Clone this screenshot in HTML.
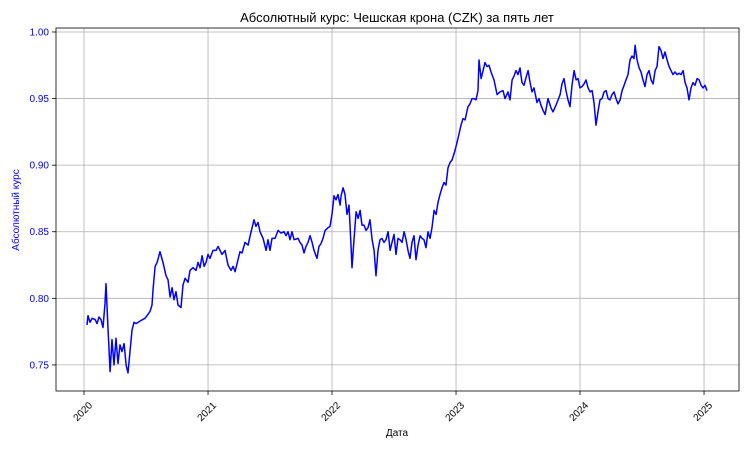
<!DOCTYPE html>
<html><head><meta charset="utf-8"><style>
html,body{margin:0;padding:0;background:#fff;width:750px;height:450px;overflow:hidden}
svg{display:block;font-family:"Liberation Sans","DejaVu Sans",sans-serif}
</style></head><body>
<svg id="chart" width="750" height="450"></svg>
<script>
const years = [0.024,0.032,0.048,0.065,0.089,0.105,0.121,0.137,0.153,0.169,0.177,0.194,0.210,0.226,0.242,0.258,0.274,0.290,0.306,0.323,0.339,0.355,0.371,0.387,0.403,0.419,0.452,0.492,0.532,0.548,0.556,0.573,0.589,0.613,0.637,0.661,0.677,0.694,0.710,0.726,0.742,0.758,0.782,0.798,0.815,0.839,0.855,0.879,0.903,0.919,0.935,0.952,0.968,0.984,1.000,1.016,1.040,1.065,1.081,1.113,1.137,1.161,1.185,1.202,1.218,1.242,1.258,1.274,1.298,1.323,1.347,1.371,1.387,1.403,1.419,1.444,1.468,1.484,1.500,1.516,1.540,1.565,1.589,1.613,1.629,1.645,1.661,1.677,1.694,1.726,1.742,1.758,1.774,1.790,1.806,1.823,1.839,1.855,1.879,1.895,1.911,1.927,1.944,1.968,1.984,2.000,2.016,2.032,2.048,2.065,2.073,2.089,2.105,2.121,2.137,2.153,2.161,2.177,2.194,2.210,2.226,2.242,2.258,2.274,2.290,2.306,2.323,2.339,2.355,2.371,2.387,2.403,2.419,2.435,2.452,2.468,2.484,2.500,2.516,2.532,2.548,2.565,2.581,2.597,2.613,2.629,2.645,2.661,2.677,2.694,2.710,2.726,2.742,2.758,2.774,2.790,2.806,2.823,2.839,2.855,2.871,2.887,2.903,2.919,2.935,2.952,2.968,2.992,3.016,3.040,3.056,3.073,3.089,3.097,3.113,3.129,3.145,3.161,3.177,3.185,3.202,3.218,3.234,3.250,3.266,3.282,3.306,3.331,3.355,3.379,3.395,3.419,3.435,3.452,3.468,3.484,3.500,3.516,3.532,3.548,3.565,3.581,3.597,3.613,3.629,3.653,3.669,3.685,3.702,3.718,3.742,3.766,3.782,3.806,3.823,3.839,3.855,3.871,3.887,3.903,3.919,3.935,3.952,3.968,3.984,4.000,4.016,4.032,4.048,4.065,4.081,4.097,4.113,4.129,4.145,4.161,4.177,4.194,4.210,4.226,4.242,4.258,4.274,4.290,4.306,4.323,4.339,4.355,4.371,4.387,4.403,4.419,4.435,4.444,4.460,4.476,4.492,4.508,4.524,4.540,4.556,4.573,4.589,4.605,4.621,4.637,4.653,4.669,4.685,4.702,4.718,4.734,4.750,4.766,4.782,4.798,4.815,4.831,4.847,4.863,4.879,4.895,4.911,4.927,4.944,4.960,4.976,4.992,5.008,5.024];
const rates = [0.780,0.787,0.782,0.785,0.784,0.781,0.786,0.784,0.778,0.796,0.811,0.776,0.745,0.769,0.750,0.770,0.751,0.765,0.760,0.766,0.750,0.744,0.760,0.776,0.782,0.781,0.783,0.785,0.790,0.795,0.806,0.824,0.827,0.835,0.827,0.817,0.814,0.801,0.808,0.799,0.805,0.795,0.793,0.810,0.815,0.812,0.821,0.823,0.821,0.827,0.823,0.832,0.824,0.827,0.833,0.830,0.836,0.836,0.839,0.833,0.836,0.825,0.821,0.824,0.820,0.829,0.835,0.834,0.842,0.840,0.850,0.859,0.854,0.857,0.850,0.845,0.836,0.844,0.836,0.845,0.845,0.851,0.849,0.850,0.847,0.850,0.844,0.850,0.844,0.845,0.842,0.840,0.834,0.839,0.842,0.847,0.842,0.836,0.830,0.839,0.841,0.845,0.851,0.853,0.854,0.863,0.877,0.874,0.878,0.870,0.877,0.883,0.878,0.863,0.870,0.840,0.823,0.844,0.865,0.860,0.866,0.855,0.855,0.851,0.853,0.859,0.844,0.836,0.817,0.836,0.844,0.845,0.842,0.844,0.850,0.836,0.842,0.848,0.833,0.845,0.844,0.842,0.850,0.844,0.836,0.830,0.842,0.847,0.829,0.840,0.847,0.845,0.844,0.838,0.850,0.845,0.853,0.866,0.863,0.872,0.878,0.883,0.887,0.885,0.898,0.902,0.904,0.911,0.920,0.930,0.935,0.934,0.941,0.944,0.946,0.950,0.950,0.949,0.956,0.979,0.965,0.971,0.977,0.974,0.975,0.970,0.964,0.953,0.955,0.956,0.950,0.955,0.949,0.964,0.967,0.971,0.968,0.973,0.962,0.960,0.966,0.971,0.962,0.955,0.958,0.947,0.950,0.945,0.941,0.938,0.950,0.943,0.940,0.945,0.949,0.953,0.961,0.965,0.956,0.949,0.944,0.960,0.971,0.964,0.965,0.958,0.959,0.961,0.964,0.958,0.955,0.956,0.947,0.930,0.940,0.949,0.950,0.955,0.956,0.950,0.949,0.953,0.955,0.950,0.946,0.949,0.956,0.960,0.964,0.968,0.979,0.982,0.980,0.990,0.979,0.973,0.970,0.964,0.959,0.968,0.971,0.964,0.961,0.971,0.974,0.989,0.986,0.980,0.985,0.979,0.974,0.971,0.968,0.970,0.968,0.969,0.968,0.971,0.962,0.958,0.949,0.958,0.962,0.960,0.965,0.964,0.960,0.958,0.960,0.956];
const xTickLabels = ["2020","2021","2022","2023","2024","2025"];
const xTickValues = [0,1,2,3,4,5];
const yTickValues = [0.75,0.80,0.85,0.90,0.95,1.00];
const yTickLabels = ["0.75","0.80","0.85","0.90","0.95","1.00"];

const L=56,R=739,T=28,B=391;
const X0=-0.226,X1=5.282,Y0=0.7304,Y1=1.003;
const sx=v=>L+(v-X0)/(X1-X0)*(R-L);
const sy=v=>B-(v-Y0)/(Y1-Y0)*(B-T);
const svg=document.getElementById('chart');
const NS='http://www.w3.org/2000/svg';
function mk(tag,attrs,parent){const e=document.createElementNS(NS,tag);for(const k in attrs)e.setAttribute(k,attrs[k]);(parent||svg).appendChild(e);return e;}

const t=mk('text',{x:397,y:22,'text-anchor':'middle','font-size':13,fill:'#000'});


t.textContent='Абсолютный курс: Чешская крона (CZK) за пять лет';

const grid=mk('g',{});


xTickValues.forEach((v,i)=>{
  const x=sx(v);
  mk('line',{x1:x,x2:x,y1:T,y2:B,stroke:'#b0b0b0','stroke-width':0.8},grid);
  mk('line',{x1:x,x2:x,y1:B,y2:B+4,stroke:'#000','stroke-width':0.8});
  const lb=mk('text',{x:x,y:B+8,'font-size':10,fill:'#000','text-anchor':'end',transform:`rotate(-45 ${x+4} ${B+10})`});
  
  
  lb.setAttribute('x',x+4);lb.setAttribute('y',B+17);
  lb.textContent=xTickLabels[i];
});
yTickValues.forEach((v,i)=>{
  const y=sy(v);
  mk('line',{x1:L,x2:R,y1:y,y2:y,stroke:'#b0b0b0','stroke-width':0.8},grid);
  mk('line',{x1:L-4,x2:L,y1:y,y2:y,stroke:'#000','stroke-width':0.8});
  const lb=mk('text',{x:L-7,y:y+3.5,'font-size':10,fill:'#0000ff','text-anchor':'end'});
  
  
  lb.textContent=yTickLabels[i];
});

let d='';
years.forEach((v,i)=>{d+=(i?'L':'M')+sx(v).toFixed(1)+','+sy(rates[i]).toFixed(1);});
const line=mk('path',{d:d,fill:'none',stroke:'#0000ff','stroke-width':1.5,'stroke-linejoin':'round'});



const fr=mk('rect',{x:L,y:T,width:R-L,height:B-T,fill:'none',stroke:'#000','stroke-width':0.8});



const xl=mk('text',{x:397,y:436,'text-anchor':'middle','font-size':10,fill:'#000'});


xl.textContent='Дата';
const yl=mk('text',{x:19,y:210,'text-anchor':'middle','font-size':10,fill:'#0000ff',transform:'rotate(-90 19 210)'});


yl.textContent='Абсолютный курс';
</script>
</body></html>
